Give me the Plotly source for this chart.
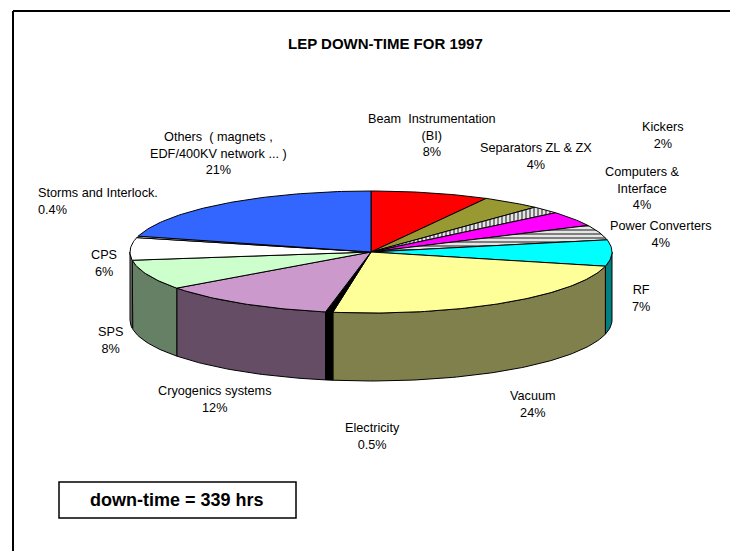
import numpy as np
import plotly.graph_objects as go

# ---------------- data ----------------
categories = [
    "Beam  Instrumentation<br>(BI)",
    "Separators ZL & ZX",
    "Kickers",
    "Computers &<br>Interface",
    "Power Converters",
    "RF",
    "Vacuum",
    "Electricity",
    "Cryogenics systems",
    "SPS",
    "CPS",
    "Storms and Interlock.",
    "Others  ( magnets ,<br>EDF/400KV network ... )",
]
values = [8, 4, 2, 4, 4, 7, 24, 0.5, 12, 8, 6, 0.4, 21]  # percent of down-time
total_hours = 339
chart_title = "LEP DOWN-TIME FOR 1997"

# ---------------- styles ----------------
top_colors = ["#FF0000", "#999933", "#FFFFFF", "#FF00FF", "#FFFFFF", "#00FFFF",
              "#FFFF99", "#000000", "#CC99CC", "#CCFFCC", "#FFFFFF", "#FFFFFF", "#3366FF"]
side_colors = ["#800000", "#4D4D1A", "#808080", "#800080", "#808080", "#008080",
               "#80804D", "#000000", "#664D66", "#668066", "#808080", "#808080", "#1A3380"]
patterns = [None, None, "|", None, "-", None, None, None, None, None, None, None, None]

# label anchor positions (pixel layout) and alignment
label_pos = [(432, 135.5), (536, 156), (663, 135.5), (642, 188.5), (661, 234),
             (641, 298.5), (533, 404), (372, 436), (215, 399), (110, 340.5),
             (104, 263), (36, 201), (218, 153)]
label_align = ["center"] * 11 + ["left", "center"]

# geometry of the tilted disc (pixel space)
CX, CY, RX, RY, DEPTH = 371, 252, 241, 61, 68
W, H = 730, 551

fig = go.Figure()

vals = np.array(values, dtype=float)
fr = vals / vals.sum()
ends = np.cumsum(fr) * 2 * np.pi
starts = ends - fr * 2 * np.pi


def rim(th):
    return CX + RX * np.sin(th), CY - RY * np.cos(th)


# side walls (visible front half: 90deg..270deg)
for i in range(len(values)):
    a0 = max(starts[i], np.pi / 2)
    a1 = min(ends[i], 3 * np.pi / 2)
    if a1 <= a0:
        continue
    n = max(3, int(np.degrees(a1 - a0)) + 2)
    th = np.linspace(a0, a1, n)
    x, y = rim(th)
    xs = np.concatenate([x, x[::-1], x[:1]])
    ys = np.concatenate([y, (y + DEPTH)[::-1], y[:1]])
    fig.add_trace(go.Scatter(x=xs, y=ys, mode="lines", fill="toself",
                             fillcolor=side_colors[i],
                             line=dict(color="black", width=1),
                             hoverinfo="skip", showlegend=False))

# top faces
for i in range(len(values)):
    n = max(3, int(np.degrees(ends[i] - starts[i])) + 2)
    th = np.linspace(starts[i], ends[i], n)
    x, y = rim(th)
    xs = np.concatenate([[CX], x, [CX]])
    ys = np.concatenate([[CY], y, [CY]])
    kw = dict(fillcolor=top_colors[i])
    if patterns[i]:
        kw["fillpattern"] = dict(shape=patterns[i], fgcolor="black",
                                 bgcolor="white", size=4, solidity=0.6)
    fig.add_trace(go.Scatter(x=xs, y=ys, mode="lines", fill="toself",
                             line=dict(color="black", width=1),
                             hoverinfo="skip", showlegend=False, **kw))

FONT = "Liberation Sans, Arial, sans-serif"

annotations = []
for cat, v, (lx, ly), al in zip(categories, values, label_pos, label_align):
    annotations.append(dict(
        x=lx, y=ly, xref="x", yref="y", text=f"{cat}<br>{v:g}%",
        showarrow=False, align=al,
        xanchor="left" if al == "left" else "center", yanchor="middle",
        font=dict(family=FONT, size=12.7, color="black")))

annotations.append(dict(x=385, y=43, xref="x", yref="y",
                        text=f"<b>{chart_title}</b>", showarrow=False,
                        font=dict(family=FONT, size=15, color="black")))
annotations.append(dict(x=177, y=500, xref="x", yref="y",
                        text=f"<b>down-time = {total_hours} hrs</b>",
                        showarrow=False,
                        font=dict(family=FONT, size=18, color="black")))

shapes = [
    dict(type="line", xref="x", yref="y", x0=13, y0=11, x1=W, y1=11,
         line=dict(color="black", width=2)),
    dict(type="line", xref="x", yref="y", x0=13, y0=11, x1=13, y1=H,
         line=dict(color="black", width=2)),
    dict(type="rect", xref="x", yref="y", x0=59, y0=482, x1=296, y1=518,
         line=dict(color="black", width=1.5), fillcolor="rgba(0,0,0,0)"),
]

fig.update_layout(
    width=W, height=H,
    margin=dict(l=0, r=0, t=0, b=0, pad=0),
    paper_bgcolor="white", plot_bgcolor="white",
    xaxis=dict(range=[0, W], visible=False, fixedrange=True),
    yaxis=dict(range=[H, 0], visible=False, fixedrange=True),
    annotations=annotations, shapes=shapes,
    showlegend=False,
)

fig.write_html(
    "out.html",
    config={"displayModeBar": False},
    post_script="document.body.style.margin='0';document.body.style.overflow='hidden';",
)
